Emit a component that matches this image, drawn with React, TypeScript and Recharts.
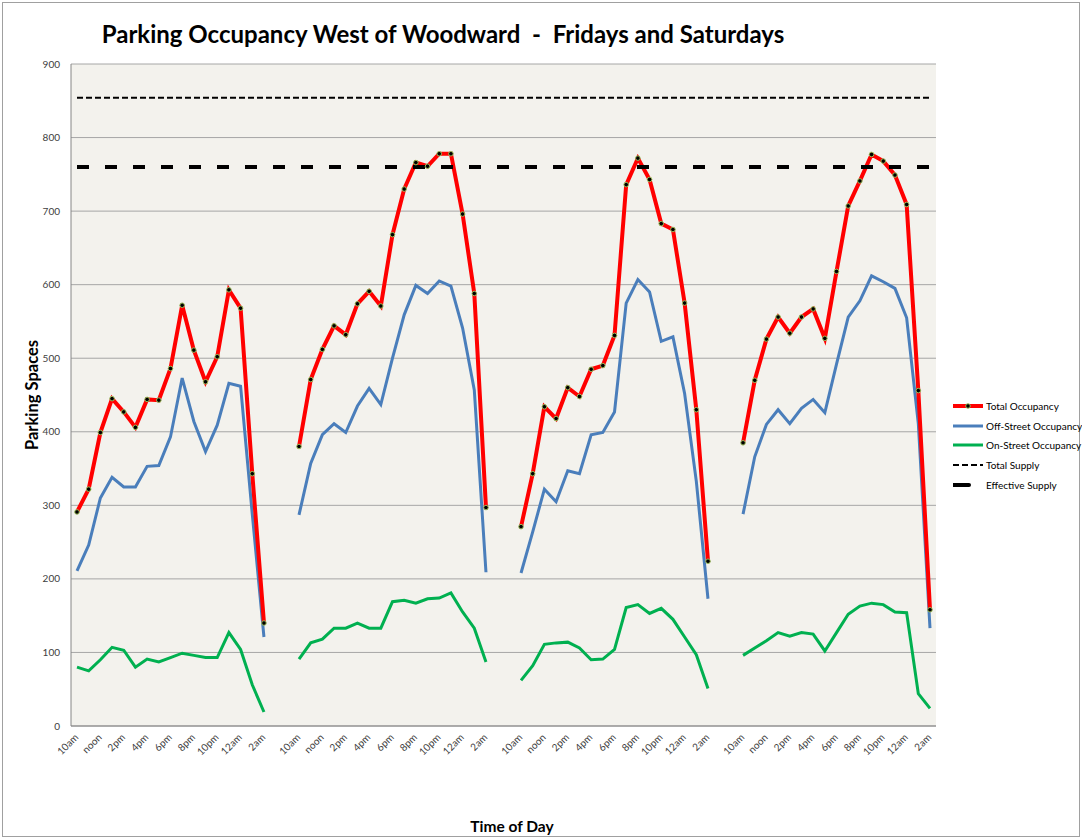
import * as React from "react";
import { ComposedChart, Line, XAxis, YAxis, CartesianGrid } from "recharts";

const font = "Lato, 'Open Sans', sans-serif";

// hourly slots of one Friday/Saturday evening
const hours = ["10am", "11am", "noon", "1pm", "2pm", "3pm", "4pm", "5pm", "6pm", "7pm", "8pm", "9pm", "10pm", "11pm", "12am", "1am", "2am"];
const tickHours = ["10am", "noon", "2pm", "4pm", "6pm", "8pm", "10pm", "12am", "2am"];
const gapSlots = 2;

const totalOcc = [
	[291, 322, 399, 445, 427, 406, 444, 443, 486, 572, 511, 468, 502, 593, 568, 343, 140],
	[380, 471, 512, 544, 532, 574, 591, 571, 668, 730, 766, 761, 778, 778, 696, 588, 297],
	[271, 343, 434, 418, 460, 448, 485, 490, 531, 736, 772, 743, 683, 675, 575, 430, 224],
	[385, 470, 526, 556, 534, 556, 567, 527, 618, 707, 741, 777, 768, 749, 709, 456, 158],
];
const offStreet = [
	[211, 246, 310, 338, 325, 325, 353, 354, 393, 473, 414, 373, 409, 466, 462, 288, 121],
	[287, 357, 396, 411, 399, 435, 459, 437, 500, 559, 599, 588, 605, 598, 541, 457, 209],
	[208, 264, 322, 305, 347, 343, 396, 399, 427, 575, 607, 590, 523, 529, 452, 333, 173],
	[288, 366, 410, 430, 411, 432, 444, 426, 492, 556, 578, 612, 604, 595, 555, 411, 133],
];
const onStreet = [
	[80, 75, 90, 107, 103, 80, 91, 87, 93, 99, 96, 93, 93, 127, 104, 56, 19],
	[91, 113, 118, 133, 133, 140, 133, 133, 169, 171, 167, 173, 174, 181, 155, 133, 87],
	[62, 82, 111, 113, 114, 106, 90, 91, 104, 161, 165, 153, 160, 145, 121, 97, 51],
	[96, 106, 116, 127, 122, 127, 125, 102, 127, 152, 163, 167, 165, 155, 154, 44, 24],
];
const totalSupply = 854;
const effectiveSupply = 760;
const yTicks = [0, 100, 200, 300, 400, 500, 600, 700, 800, 900];

type Row = {
	slot: string;
	label: string;
	total: number | null;
	off: number | null;
	on: number | null;
	supply: number;
	effective: number;
};

const rows: Row[] = [];
totalOcc.forEach((day, d) => {
	hours.forEach((h, i) => {
		rows.push({
			slot: `d${d}-${h}`,
			label: tickHours.includes(h) ? h : "",
			total: day[i],
			off: offStreet[d][i],
			on: onStreet[d][i],
			supply: totalSupply,
			effective: effectiveSupply,
		});
	});
	if (d < totalOcc.length - 1) {
		for (let g = 0; g < gapSlots; g++) {
			rows.push({ slot: `gap${d}-${g}`, label: "", total: null, off: null, on: null, supply: totalSupply, effective: effectiveSupply });
		}
	}
});

const SlotTick = (props: any) => {
	const { x, y, index } = props;
	const label = rows[index] ? rows[index].label : "";
	if (!label) return null;
	return (
		<text x={x + 2} y={y + 10} transform={`rotate(-45 ${x + 2} ${y + 10})`} textAnchor="end" fontSize={10} fontFamily={font} fill="#404040">
			{label}
		</text>
	);
};

const legendItems = [
	{ name: "Total Occupancy", color: "#FF0000", width: 4, dash: "", dot: true, len: 30 },
	{ name: "Off-Street Occupancy", color: "#4A7EBB", width: 3, dash: "", dot: false, len: 30 },
	{ name: "On-Street Occupancy", color: "#00B050", width: 3, dash: "", dot: false, len: 30 },
	{ name: "Total Supply", color: "#000000", width: 2, dash: "6 3", dot: false, len: 30 },
	{ name: "Effective Supply", color: "#000000", width: 4, dash: "", dot: false, len: 16 },
];

const LegendBox = () => (
	<div style={{ position: "absolute", left: 953, top: 396, fontFamily: font, fontSize: 10, color: "#000" }}>
		{legendItems.map((it) => (
			<div key={it.name} style={{ display: "flex", alignItems: "center", height: 19.7 }}>
				<svg width={33} height={8} style={{ flex: "none" }}>
					<line x1={0} y1={4} x2={it.len} y2={4} stroke={it.color} strokeWidth={it.width} strokeDasharray={it.dash} strokeLinecap={it.len < 30 ? "round" : "butt"} />
					{it.dot && <circle cx={15} cy={4} r={2.3} fill="#000" stroke="#9BBB59" strokeWidth={1} />}
				</svg>
				<span style={{ whiteSpace: "nowrap" }}>{it.name}</span>
			</div>
		))}
	</div>
);

const App: React.FC = () => {
	return (
		<div style={{ position: "absolute", left: 0, top: 0, width: 1082, height: 839, background: "#fff", fontFamily: font }}>
			<div style={{ position: "absolute", left: 2, top: 2, width: 1076, height: 833, border: "1px solid #A0A0A0" }} />
			<ComposedChart width={1082} height={839} data={rows} margin={{ top: 64, right: 146, bottom: 73, left: 0 }}>
				<CartesianGrid vertical={false} stroke="#A6A6A6" fill="#F3F2ED" />
				<XAxis
					dataKey="slot"
					interval={0}
					tick={<SlotTick />}
					tickLine={false}
					tickSize={0}
					axisLine={{ stroke: "#868686" }}
					height={40}
					padding={{ left: 6, right: 6 }}
				/>
				<YAxis
					domain={[0, 900]}
					ticks={yTicks}
					width={71}
					tickLine={false}
					tickMargin={5}
					axisLine={{ stroke: "#868686" }}
					tick={{ fontSize: 10, fill: "#404040", fontFamily: font }}
				/>
				<Line dataKey="off" stroke="#4A7EBB" strokeWidth={3} dot={false} isAnimationActive={false} />
				<Line dataKey="on" stroke="#00B050" strokeWidth={3} dot={false} isAnimationActive={false} />
				<Line
					dataKey="total"
					stroke="#FF0000"
					strokeWidth={4}
					dot={{ r: 2.3, fill: "#000", stroke: "#9BBB59", strokeWidth: 1 }}
					isAnimationActive={false}
				/>
				<Line dataKey="supply" stroke="#000" strokeWidth={2} strokeDasharray="6 3" dot={false} isAnimationActive={false} />
				<Line dataKey="effective" stroke="#000" strokeWidth={4} strokeDasharray="12 16" dot={false} isAnimationActive={false} />
			</ComposedChart>
			<LegendBox />
			<div style={{ position: "absolute", left: 0, width: 886, top: 19, textAlign: "center", fontWeight: 700, fontSize: 24, whiteSpace: "pre" }}>
				{"Parking Occupancy West of Woodward  -  Fridays and Saturdays"}
			</div>
			<div style={{ position: "absolute", left: 32, top: 395, transform: "translate(-50%, -50%) rotate(-90deg)", fontWeight: 700, fontSize: 16.5, whiteSpace: "nowrap" }}>
				Parking Spaces
			</div>
			<div style={{ position: "absolute", left: 512, top: 826, transform: "translate(-50%, -50%)", fontWeight: 700, fontSize: 15.5, whiteSpace: "nowrap" }}>
				Time of Day
			</div>
		</div>
	);
};

export default App;
